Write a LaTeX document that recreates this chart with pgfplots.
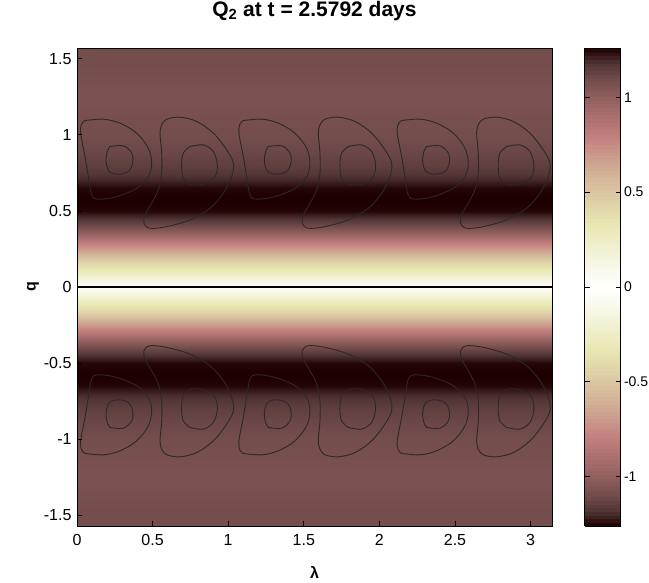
\documentclass[border=0pt]{standalone}
\usepackage{pgfplots}
\pgfplotsset{compat=1.18}
\usepackage{pgfplotstable}
\usepackage{fontspec}
\setmainfont{Liberation Sans}

\pgfplotstableread{
x y c
0 -1.5708 1.09
3.14159 -1.5708 1.09
0 -1.5 1.09
3.14159 -1.5 1.09
0 -1.4 1.08
3.14159 -1.4 1.08
0 -1.3 1.07
3.14159 -1.3 1.07
0 -1.2 1.07
3.14159 -1.2 1.07
0 -1.1 1.08
3.14159 -1.1 1.08
0 -1.0 1.09
3.14159 -1.0 1.09
0 -0.9 1.11
3.14159 -0.9 1.11
0 -0.8 1.14
3.14159 -0.8 1.14
0 -0.75 1.17
3.14159 -0.75 1.17
0 -0.7 1.20
3.14159 -0.7 1.20
0 -0.65 1.25
3.14159 -0.65 1.25
0 -0.6 1.26
3.14159 -0.6 1.26
0 -0.55 1.26
3.14159 -0.55 1.26
0 -0.5 1.25
3.14159 -0.5 1.25
0 -0.45 1.18
3.14159 -0.45 1.18
0 -0.4 1.10
3.14159 -0.4 1.10
0 -0.35 0.98
3.14159 -0.35 0.98
0 -0.3 0.84
3.14159 -0.3 0.84
0 -0.25 0.69
3.14159 -0.25 0.69
0 -0.2 0.53
3.14159 -0.2 0.53
0 -0.15 0.40
3.14159 -0.15 0.40
0 -0.1 0.29
3.14159 -0.1 0.29
0 -0.05 0.16
3.14159 -0.05 0.16
0 0 0.04
3.14159 0 0.04
0 0.05 0.16
3.14159 0.05 0.16
0 0.1 0.29
3.14159 0.1 0.29
0 0.15 0.40
3.14159 0.15 0.40
0 0.2 0.53
3.14159 0.2 0.53
0 0.25 0.69
3.14159 0.25 0.69
0 0.3 0.84
3.14159 0.3 0.84
0 0.35 0.98
3.14159 0.35 0.98
0 0.4 1.10
3.14159 0.4 1.10
0 0.45 1.18
3.14159 0.45 1.18
0 0.5 1.25
3.14159 0.5 1.25
0 0.55 1.26
3.14159 0.55 1.26
0 0.6 1.26
3.14159 0.6 1.26
0 0.65 1.25
3.14159 0.65 1.25
0 0.7 1.20
3.14159 0.7 1.20
0 0.75 1.17
3.14159 0.75 1.17
0 0.8 1.14
3.14159 0.8 1.14
0 0.9 1.11
3.14159 0.9 1.11
0 1.0 1.09
3.14159 1.0 1.09
0 1.1 1.08
3.14159 1.1 1.08
0 1.2 1.07
3.14159 1.2 1.07
0 1.3 1.07
3.14159 1.3 1.07
0 1.4 1.08
3.14159 1.4 1.08
0 1.5 1.09
3.14159 1.5 1.09
0 1.5708 1.09
3.14159 1.5708 1.09
}\field

\pgfplotstableread{
x y
0.053 1.094
0.174 1.103
0.284 1.077
0.395 1.011
0.472 0.912
0.494 0.814
0.472 0.726
0.395 0.649
0.262 0.594
0.141 0.577
0.097 0.605
0.075 0.726
0.053 0.857
0.024 1.011
0.031 1.072
0.053 1.094
nan nan
0.218 0.923
0.306 0.928
0.362 0.880
0.368 0.814
0.339 0.759
0.273 0.741
0.214 0.759
0.192 0.824
0.200 0.890
0.218 0.923
nan nan
0.560 1.066
0.593 1.103
0.681 1.116
0.792 1.088
0.902 1.011
0.990 0.901
1.034 0.814
1.023 0.726
0.968 0.616
0.880 0.518
0.747 0.441
0.593 0.397
0.483 0.386
0.443 0.419
0.450 0.474
0.494 0.551
0.538 0.638
0.560 0.748
0.560 0.880
0.549 1.011
0.560 1.066
nan nan
0.747 0.923
0.835 0.934
0.902 0.890
0.928 0.803
0.913 0.726
0.847 0.678
0.759 0.671
0.703 0.715
0.692 0.803
0.703 0.880
0.747 0.923
nan nan
1.100 1.094
1.221 1.103
1.331 1.077
1.442 1.011
1.519 0.912
1.541 0.814
1.519 0.726
1.442 0.649
1.309 0.594
1.188 0.577
1.144 0.605
1.122 0.726
1.100 0.857
1.071 1.011
1.078 1.072
1.100 1.094
nan nan
1.265 0.923
1.353 0.928
1.409 0.880
1.415 0.814
1.386 0.759
1.320 0.741
1.261 0.759
1.239 0.824
1.247 0.890
1.265 0.923
nan nan
1.607 1.066
1.640 1.103
1.728 1.116
1.839 1.088
1.949 1.011
2.037 0.901
2.081 0.814
2.070 0.726
2.015 0.616
1.927 0.518
1.794 0.441
1.640 0.397
1.530 0.386
1.490 0.419
1.497 0.474
1.541 0.551
1.585 0.638
1.607 0.748
1.607 0.880
1.596 1.011
1.607 1.066
nan nan
1.794 0.923
1.882 0.934
1.949 0.890
1.975 0.803
1.960 0.726
1.894 0.678
1.806 0.671
1.750 0.715
1.739 0.803
1.750 0.880
1.794 0.923
nan nan
2.147 1.094
2.268 1.103
2.378 1.077
2.489 1.011
2.566 0.912
2.588 0.814
2.566 0.726
2.489 0.649
2.356 0.594
2.235 0.577
2.191 0.605
2.169 0.726
2.147 0.857
2.118 1.011
2.125 1.072
2.147 1.094
nan nan
2.312 0.923
2.400 0.928
2.456 0.880
2.462 0.814
2.433 0.759
2.367 0.741
2.308 0.759
2.286 0.824
2.294 0.890
2.312 0.923
nan nan
2.654 1.066
2.687 1.103
2.775 1.116
2.886 1.088
2.996 1.011
3.084 0.901
3.128 0.814
3.117 0.726
3.062 0.616
2.974 0.518
2.841 0.441
2.687 0.397
2.577 0.386
2.537 0.419
2.544 0.474
2.588 0.551
2.632 0.638
2.654 0.748
2.654 0.880
2.643 1.011
2.654 1.066
nan nan
2.841 0.923
2.929 0.934
2.996 0.890
3.022 0.803
3.007 0.726
2.941 0.678
2.853 0.671
2.797 0.715
2.786 0.803
2.797 0.880
2.841 0.923
}\contUp

\pgfplotstableread{
x y
0.053 -1.094
0.174 -1.103
0.284 -1.077
0.395 -1.011
0.472 -0.912
0.494 -0.814
0.472 -0.726
0.395 -0.649
0.262 -0.594
0.141 -0.577
0.097 -0.605
0.075 -0.726
0.053 -0.857
0.024 -1.011
0.031 -1.072
0.053 -1.094
nan nan
0.218 -0.923
0.306 -0.928
0.362 -0.880
0.368 -0.814
0.339 -0.759
0.273 -0.741
0.214 -0.759
0.192 -0.824
0.200 -0.890
0.218 -0.923
nan nan
0.560 -1.066
0.593 -1.103
0.681 -1.116
0.792 -1.088
0.902 -1.011
0.990 -0.901
1.034 -0.814
1.023 -0.726
0.968 -0.616
0.880 -0.518
0.747 -0.441
0.593 -0.397
0.483 -0.386
0.443 -0.419
0.450 -0.474
0.494 -0.551
0.538 -0.638
0.560 -0.748
0.560 -0.880
0.549 -1.011
0.560 -1.066
nan nan
0.747 -0.923
0.835 -0.934
0.902 -0.890
0.928 -0.803
0.913 -0.726
0.847 -0.678
0.759 -0.671
0.703 -0.715
0.692 -0.803
0.703 -0.880
0.747 -0.923
nan nan
1.100 -1.094
1.221 -1.103
1.331 -1.077
1.442 -1.011
1.519 -0.912
1.541 -0.814
1.519 -0.726
1.442 -0.649
1.309 -0.594
1.188 -0.577
1.144 -0.605
1.122 -0.726
1.100 -0.857
1.071 -1.011
1.078 -1.072
1.100 -1.094
nan nan
1.265 -0.923
1.353 -0.928
1.409 -0.880
1.415 -0.814
1.386 -0.759
1.320 -0.741
1.261 -0.759
1.239 -0.824
1.247 -0.890
1.265 -0.923
nan nan
1.607 -1.066
1.640 -1.103
1.728 -1.116
1.839 -1.088
1.949 -1.011
2.037 -0.901
2.081 -0.814
2.070 -0.726
2.015 -0.616
1.927 -0.518
1.794 -0.441
1.640 -0.397
1.530 -0.386
1.490 -0.419
1.497 -0.474
1.541 -0.551
1.585 -0.638
1.607 -0.748
1.607 -0.880
1.596 -1.011
1.607 -1.066
nan nan
1.794 -0.923
1.882 -0.934
1.949 -0.890
1.975 -0.803
1.960 -0.726
1.894 -0.678
1.806 -0.671
1.750 -0.715
1.739 -0.803
1.750 -0.880
1.794 -0.923
nan nan
2.147 -1.094
2.268 -1.103
2.378 -1.077
2.489 -1.011
2.566 -0.912
2.588 -0.814
2.566 -0.726
2.489 -0.649
2.356 -0.594
2.235 -0.577
2.191 -0.605
2.169 -0.726
2.147 -0.857
2.118 -1.011
2.125 -1.072
2.147 -1.094
nan nan
2.312 -0.923
2.400 -0.928
2.456 -0.880
2.462 -0.814
2.433 -0.759
2.367 -0.741
2.308 -0.759
2.286 -0.824
2.294 -0.890
2.312 -0.923
nan nan
2.654 -1.066
2.687 -1.103
2.775 -1.116
2.886 -1.088
2.996 -1.011
3.084 -0.901
3.128 -0.814
3.117 -0.726
3.062 -0.616
2.974 -0.518
2.841 -0.441
2.687 -0.397
2.577 -0.386
2.537 -0.419
2.544 -0.474
2.588 -0.551
2.632 -0.638
2.654 -0.748
2.654 -0.880
2.643 -1.011
2.654 -1.066
nan nan
2.841 -0.923
2.929 -0.934
2.996 -0.890
3.022 -0.803
3.007 -0.726
2.941 -0.678
2.853 -0.671
2.797 -0.715
2.786 -0.803
2.797 -0.880
2.841 -0.923
}\contDown

\definecolor{contc}{RGB}{45,40,40}

\pgfplotsset{
  colormap={pinkdiv}{
    rgb255(0cm)=(30,0,0); rgb255(1cm)=(80,52,52); rgb255(2cm)=(112,74,74);
    rgb255(3cm)=(138,90,90); rgb255(4cm)=(159,104,104); rgb255(5cm)=(178,116,116);
    rgb255(6cm)=(195,128,128); rgb255(7cm)=(202,150,138); rgb255(8cm)=(208,170,147);
    rgb255(9cm)=(215,188,156); rgb255(10cm)=(221,204,165); rgb255(11cm)=(227,219,173);
    rgb255(12cm)=(233,233,180); rgb255(13cm)=(238,238,202); rgb255(14cm)=(244,244,221);
    rgb255(15cm)=(250,250,239); rgb255(16cm)=(255,255,255);
    rgb255(17cm)=(250,250,239); rgb255(18cm)=(244,244,221); rgb255(19cm)=(238,238,202);
    rgb255(20cm)=(233,233,180); rgb255(21cm)=(227,219,173); rgb255(22cm)=(221,204,165);
    rgb255(23cm)=(215,188,156); rgb255(24cm)=(208,170,147); rgb255(25cm)=(202,150,138);
    rgb255(26cm)=(195,128,128); rgb255(27cm)=(178,116,116); rgb255(28cm)=(159,104,104);
    rgb255(29cm)=(138,90,90); rgb255(30cm)=(112,74,74); rgb255(31cm)=(80,52,52);
    rgb255(32cm)=(30,0,0)
  }
}

\begin{document}
\begin{tikzpicture}
\useasboundingbox (-77bp,-57bp) rectangle (572bp,526bp);
\begin{axis}[
  at={(0,0)}, anchor=south west,
  scale only axis, width=475bp, height=478bp,
  xmin=0, xmax=3.14159, ymin=-1.5708, ymax=1.5708,
  axis on top,
  axis line style={black, line width=0.8bp},
  xtick={0,0.5,1,1.5,2,2.5,3},
  xticklabels={0,0.5,1,1.5,2,2.5,3},
  ytick={-1.5,-1,-0.5,0,0.5,1,1.5},
  yticklabels={-1.5,-1,-0.5,0,0.5,1,1.5},
  xtick pos=bottom, ytick pos=left,
  tick align=inside, major tick length=5bp,
  tick style={black, line width=0.8bp},
  ticklabel style={font=\fontsize{16bp}{18bp}\selectfont},
  xticklabel style={yshift=-5bp},
  yticklabel style={xshift=-2bp},
  xlabel={\textbf{λ}}, ylabel={\textbf{q}},
  xlabel style={at={(axis description cs:0.5,0)}, anchor=center, yshift=-46bp, font=\fontsize{16bp}{18bp}\selectfont},
  ylabel style={at={(axis description cs:0,0.5)}, anchor=center, yshift=44bp, font=\fontsize{16bp}{18bp}\selectfont},
  title={\textbf{Q\textsubscript{2} at t = 2.5792 days}},
  title style={at={(axis description cs:0.5,1)}, anchor=base, yshift=26bp, font=\fontsize{21bp}{24bp}\selectfont},
  unbounded coords=jump,
  colormap name=pinkdiv,
  point meta min=-1.26, point meta max=1.26,
  colorbar sampled,
  colorbar style={
    at={(parent axis.north east)}, anchor=north west, xshift=24bp,
    width=36bp, height=478bp,
    samples=130,
    ytick={-1,-0.5,0,0.5,1},
    yticklabels={-1,-0.5,0,0.5,1},
    ytick pos=both, yticklabel pos=right,
    tick align=inside, major tick length=5bp,
    tick style={black, line width=0.8bp},
    axis line style={black, line width=0.8bp},
    yticklabel style={font=\fontsize{14bp}{16bp}\selectfont, xshift=0bp},
  },
]
\addplot[surf, shader=interp, mesh/cols=2, point meta=explicit] table[x=x, y=y, meta=c] {\field};
\addplot[contc, line width=0.9bp, smooth, tension=0.55] table[x=x, y=y] {\contUp};
\addplot[contc, line width=0.9bp, smooth, tension=0.55] table[x=x, y=y] {\contDown};
\addplot[black, line width=1.1bp] coordinates {(0,0) (3.14159,0)};
\end{axis}
\end{tikzpicture}
\end{document}
